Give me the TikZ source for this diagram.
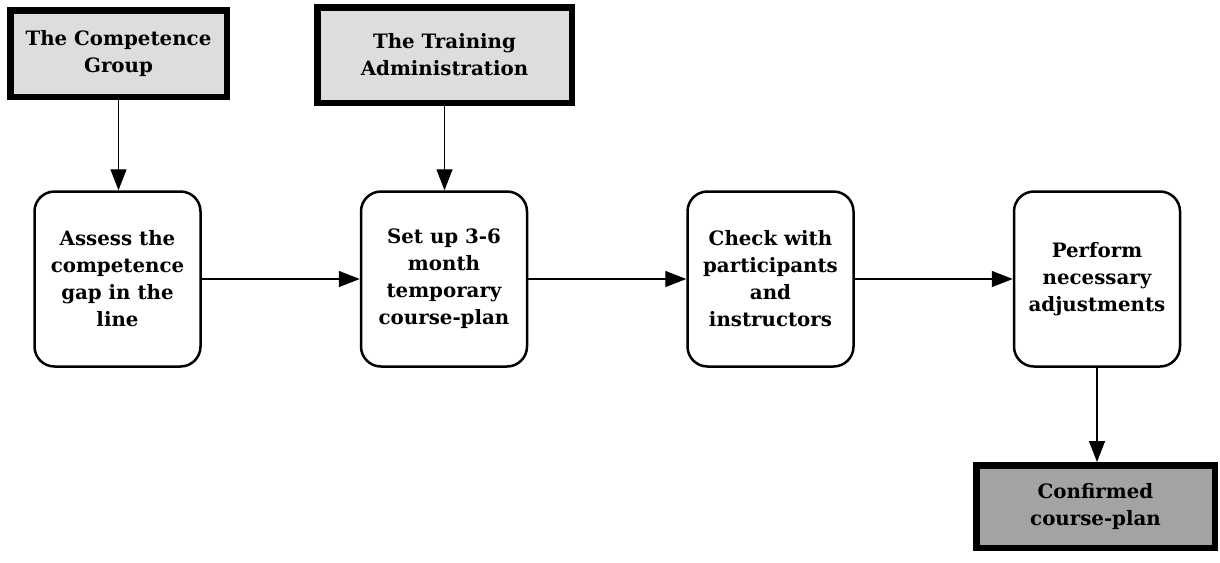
\documentclass[tikz,border=0pt]{standalone}
\usepackage{fontspec}
\setmainfont{DejaVu Serif}
\usetikzlibrary{arrows.meta}
\definecolor{srcgray}{RGB}{221,221,221}
\definecolor{endgray}{RGB}{163,163,163}
\begin{document}
\begin{tikzpicture}[x=1pt,y=-1pt,
  every node/.style={font=\bfseries\fontsize{19.8}{27}\selectfont, align=center, inner sep=0pt},
  actor/.style={draw=black, line width=6.5pt, fill=srcgray},
  result/.style={draw=black, line width=6.5pt, fill=endgray},
  stepbox/.style={draw=black, line width=2.5pt, fill=white, rounded corners=20pt,
                  minimum width=166pt, minimum height=175pt},
  flow/.style={line width=1.4pt, -{Triangle[length=21pt,width=16pt]}}]
\useasboundingbox (0,0) rectangle (1220,562);
\fill[white] (0,0) rectangle (1220,562);

% source boxes
\node[actor, minimum width=216.5pt, minimum height=86.5pt] (grp) at (118.5,53.5)
  {The Competence\\Group};
\node[actor, minimum width=254.5pt, minimum height=95.5pt] (adm) at (444.5,55)
  {The Training\\Administration};

% process steps
\node[stepbox] (assess) at (117.5,279) {Assess the\\competence\\gap in the\\line};
\node[stepbox] (setup)  at (444,279)   {Set up 3-6\\month\\temporary\\course-plan};
\node[stepbox] (check)  at (770.5,279) {Check with\\participants\\and\\instructors};
\node[stepbox] (adjust) at (1097,279)  {Perform\\necessary\\adjustments};

% outcome
\node[result, minimum width=238.5pt, minimum height=82.5pt] (conf) at (1095.5,506.5)
  {Confirmed\\course-plan};

% connectors
\draw[flow] (grp.south) -- (grp.south |- assess.north);
\draw[flow] (adm.south) -- (adm.south |- setup.north);
\draw[flow] (assess.east) -- (setup.west);
\draw[flow] (setup.east) -- (check.west);
\draw[flow] (check.east) -- (adjust.west);
\draw[flow] (adjust.south) -- (adjust.south |- conf.north);
\end{tikzpicture}
\end{document}
